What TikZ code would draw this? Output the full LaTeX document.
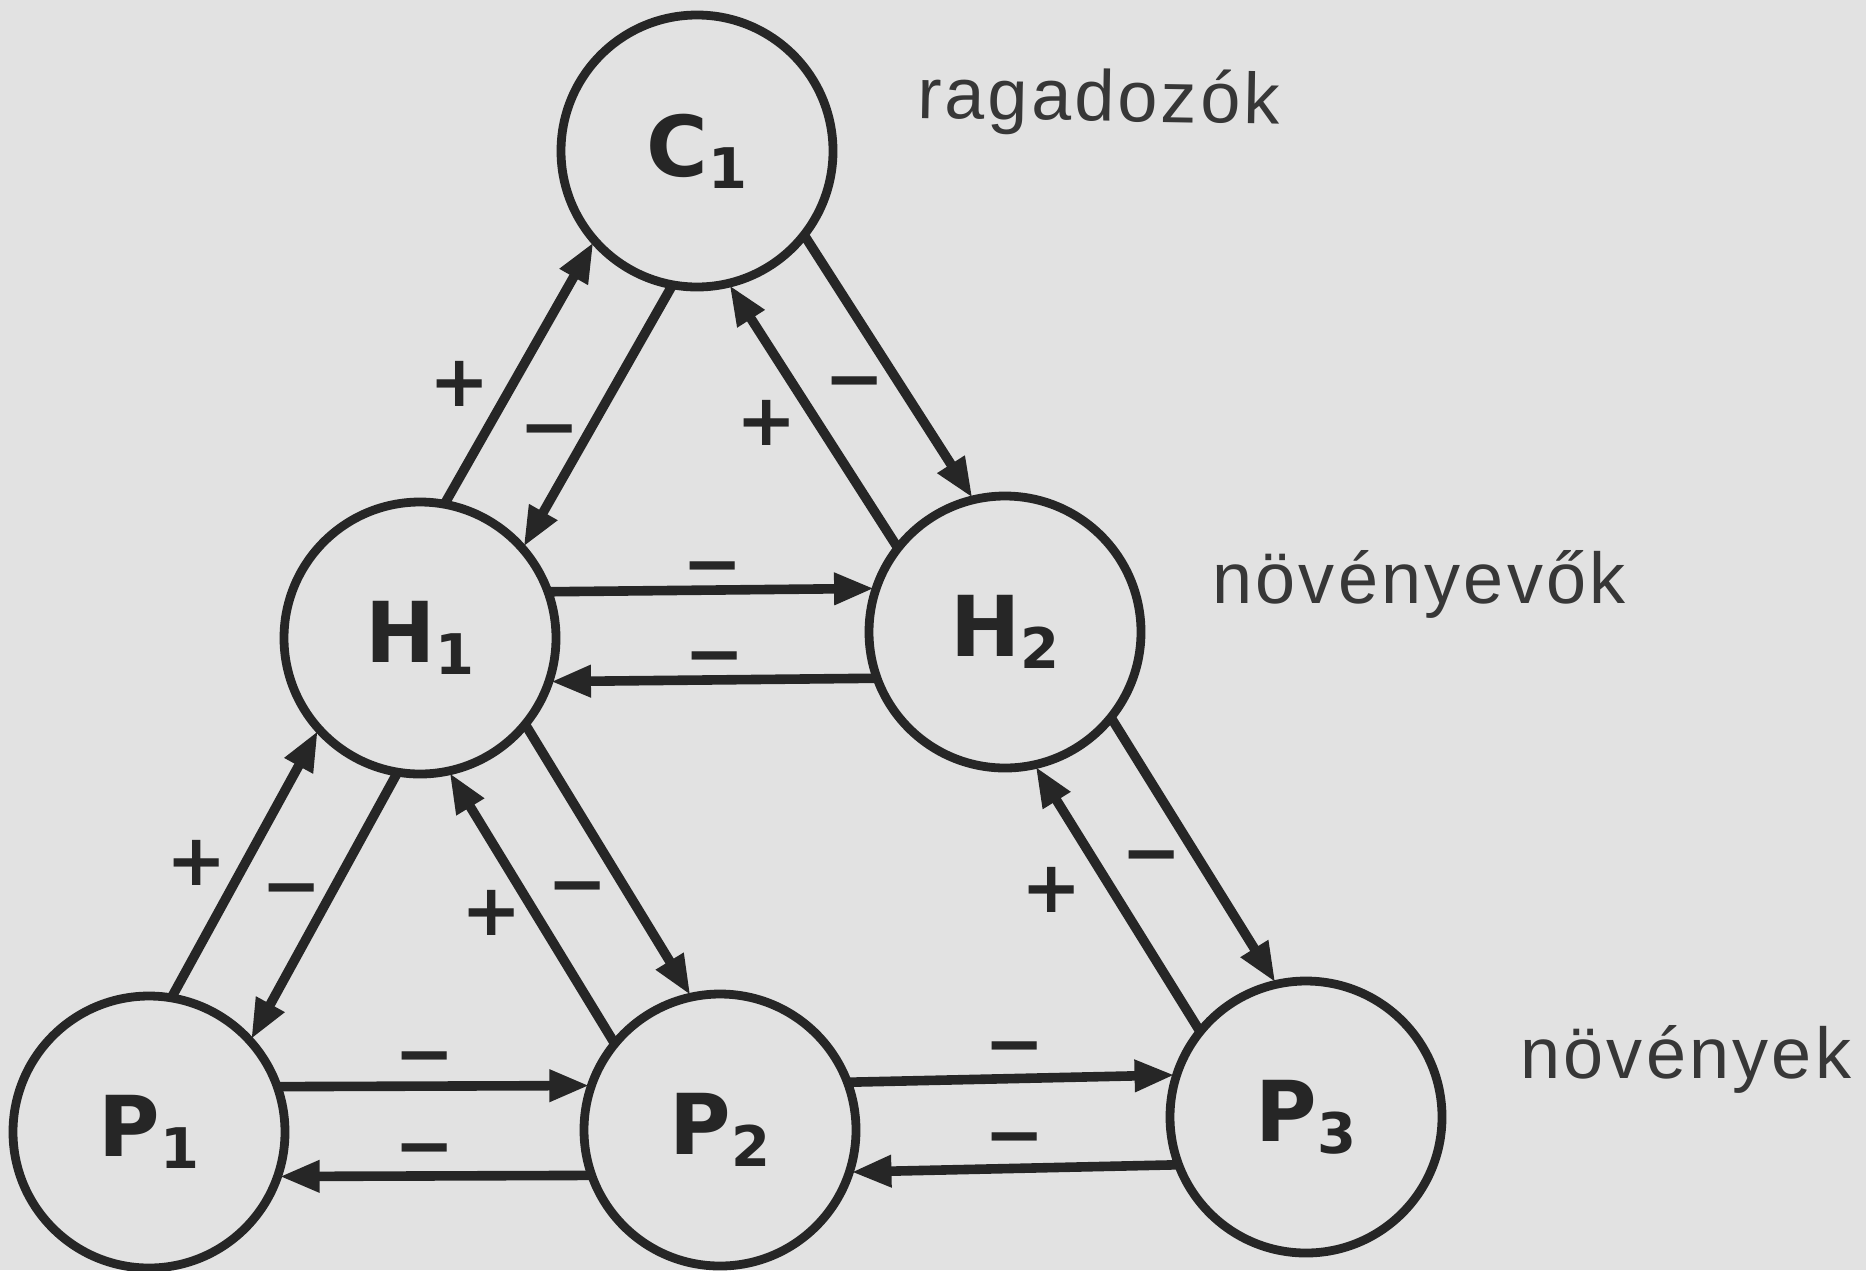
\documentclass[tikz,border=0pt]{standalone}
\usepackage{fontspec}
\setmainfont{Liberation Sans}
\newfontfamily\symfont{DejaVu Sans}
\newfontfamily\sidefont{Liberation Sans}[LetterSpace=4.5]
\usetikzlibrary{calc,arrows.meta}
\definecolor{bgc}{RGB}{226,226,226}
\definecolor{ink}{RGB}{38,38,38}
\definecolor{txt}{RGB}{55,55,55}
\newcommand\Rr{69pt}
\newcommand\Aa{19}
\newcommand\linkarrow[2]{\draw[arr] ($(#1)!\Rr!\Aa:(#2)$) -- ($(#2)!\Rr!-\Aa:(#1)$);}
\newcommand\popname[2]{#1\raisebox{-6pt}{\fontsize{28}{28}\selectfont #2}}
\begin{document}
\begin{tikzpicture}[x=0.5pt,y=-0.5pt,
  pop/.style={circle,draw=ink,line width=4.4pt,minimum size=136pt,inner sep=0pt,fill=bgc,text=ink,font=\symfont\bfseries\fontsize{42}{42}\selectfont},
  arr/.style={draw=ink,line width=4.8pt,-{Triangle[length=20pt,width=15pt]}},
  sign/.style={text=ink,font=\symfont\bfseries\fontsize{36}{36}\selectfont,inner sep=0pt,text height=23.8pt,text depth=0pt},
  level/.style={text=txt,font=\sidefont\fontsize{36}{36}\selectfont,anchor=base west,inner sep=0pt}]
\fill[bgc] (0,0) rectangle (1866,1270);
\useasboundingbox (0,0) rectangle (1866,1270);

\node[pop] (C1) at (697,151) {\popname{C}{1}};
\node[pop] (H1) at (420,638) {\popname{H}{1}};
\node[pop] (H2) at (1005,632) {\popname{H}{2}};
\node[pop] (P1) at (149,1132) {\popname{P}{1}};
\node[pop] (P2) at (720,1130) {\popname{P}{2}};
\node[pop] (P3) at (1306,1117) {\popname{P}{3}};

\linkarrow{H1}{C1}
\linkarrow{C1}{H1}
\linkarrow{H2}{C1}
\linkarrow{C1}{H2}
\linkarrow{H1}{H2}
\linkarrow{H2}{H1}
\linkarrow{P1}{H1}
\linkarrow{H1}{P1}
\linkarrow{P2}{H1}
\linkarrow{H1}{P2}
\linkarrow{P3}{H2}
\linkarrow{H2}{P3}
\linkarrow{P1}{P2}
\linkarrow{P2}{P1}
\linkarrow{P2}{P3}
\linkarrow{P3}{P2}

\node[sign] (s1) at (460,383) {+};
\node[sign] (s2) at (550,428) {−};
\node[sign] (s3) at (767,422) {+};
\node[sign] (s4) at (855,380) {−};
\node[sign] (s5) at (713,565) {−};
\node[sign] (s6) at (715,655) {−};
\node[sign] (s7) at (197,862) {+};
\node[sign] (s8) at (292,887) {−};
\node[sign] (s9) at (492,912) {+};
\node[sign] (s10) at (578,885) {−};
\node[sign] (s11) at (1052,889) {+};
\node[sign] (s12) at (1152,854) {−};
\node[sign] (s13) at (425,1055) {−};
\node[sign] (s14) at (425,1147) {−};
\node[sign] (s15) at (1015,1045) {−};
\node[sign] (s16) at (1015,1136) {−};

\node[level,rotate=-1] (t1) at (917,118) {ragadozók};
\node[level] (t2) at (1212,603) {növényevők};
\node[level] (t3) at (1520,1078) {növények};
\end{tikzpicture}
\end{document}
